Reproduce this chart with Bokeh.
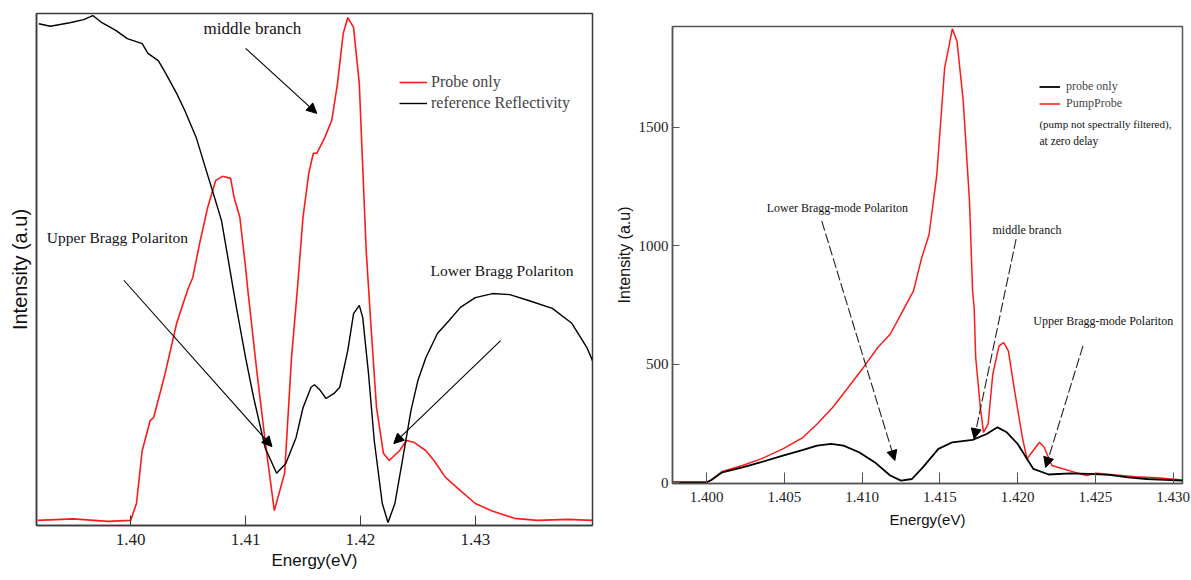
from bokeh.plotting import figure
from bokeh.layouts import row, column
from bokeh.models import (ColumnDataSource, Range1d, FixedTicker, Arrow, NormalHead,
                          Label, Legend, LegendItem, NumeralTickFormatter)
from bokeh.embed import file_html
from bokeh.resources import INLINE

# ---------------- data: left panel (arbitrary units) ----------------
left_probe_E = [1.3919, 1.3950, 1.3980, 1.4000, 1.4005, 1.4010, 1.4017, 1.4020, 1.4030, 1.4040,
                1.4050, 1.4054, 1.4060, 1.4067, 1.4074, 1.4080, 1.4087, 1.4090, 1.4095, 1.4100,
                1.4102, 1.4110, 1.4117, 1.4125, 1.4134, 1.4140, 1.4145, 1.4150, 1.4155, 1.4159,
                1.4162, 1.4169, 1.4175, 1.4180, 1.4185, 1.4189, 1.4194, 1.4199, 1.4202, 1.4205,
                1.4209, 1.4214, 1.4220, 1.4225, 1.4234, 1.4240, 1.4247, 1.4257, 1.4264, 1.4274,
                1.4287, 1.4300, 1.4314, 1.4334, 1.4354, 1.4380, 1.4402]
left_probe_I = [1.0, 1.3, 0.8, 1.0, 4.3, 14.6, 20.5, 21.1, 29.7, 39.5,
                46.3, 48.4, 55.1, 62.1, 67.4, 68.2, 67.8, 64.1, 60.2, 50.4,
                45.9, 29.7, 16.6, 2.9, 10.2, 32.8, 45.9, 60.2, 68.8, 72.7,
                72.7, 75.8, 79.1, 86.3, 96.1, 99.2, 97.3, 86.3, 69.9, 53.7,
                39.5, 23.0, 14.1, 12.7, 14.6, 16.6, 16.2, 14.6, 12.7, 9.4,
                6.8, 4.3, 2.9, 1.4, 1.0, 1.2, 1.0]

left_ref_E = [1.3920, 1.3930, 1.3947, 1.3959, 1.3967, 1.3975, 1.3987, 1.3997, 1.4010, 1.4015,
              1.4024, 1.4030, 1.4040, 1.4047, 1.4057, 1.4065, 1.4072, 1.4079, 1.4084, 1.4089,
              1.4092, 1.4100, 1.4107, 1.4117, 1.4127, 1.4135, 1.4144, 1.4150, 1.4157, 1.4160,
              1.4165, 1.4170, 1.4177, 1.4182, 1.4189, 1.4194, 1.4199, 1.4202, 1.4207, 1.4212,
              1.4219, 1.4224, 1.4230, 1.4237, 1.4244, 1.4250, 1.4257, 1.4267, 1.4277, 1.4287,
              1.4300, 1.4315, 1.4330, 1.4347, 1.4367, 1.4384, 1.4397, 1.4402]
left_ref_I = [98.0, 97.5, 98.2, 98.8, 99.6, 98.2, 96.7, 95.1, 94.1, 92.2,
              90.8, 88.5, 84.4, 81.1, 75.8, 69.9, 64.8, 59.6, 53.1, 46.5,
              42.6, 32.8, 25.0, 15.2, 10.2, 12.1, 17.2, 23.0, 27.0, 27.5,
              26.4, 24.8, 25.8, 27.0, 34.2, 41.4, 43.0, 40.6, 29.7, 16.6,
              4.3, 0.6, 4.3, 13.3, 22.5, 28.3, 32.8, 37.5, 40.0, 42.6,
              44.5, 45.3, 45.1, 43.9, 42.4, 39.5, 34.8, 32.2]

left_xticks = [1.40, 1.41, 1.42, 1.43]

# ---------------- data: right panel ----------------
right_probe_E = [1.3978, 1.4000, 1.4003, 1.4010, 1.4023, 1.4035, 1.4049, 1.4062, 1.4071, 1.4080,
                 1.4088, 1.4098, 1.4108, 1.4118, 1.4125, 1.4132, 1.4139, 1.4149, 1.4158, 1.4171,
                 1.4180, 1.4187, 1.4193, 1.4200, 1.4210, 1.4220, 1.4234, 1.4246, 1.4259, 1.4271,
                 1.4283, 1.4306]
right_probe_I = [1, 1, 11, 43, 64, 86, 114, 138, 156, 163,
                 156, 128, 86, 30, 8, 15, 64, 142, 170, 180,
                 205, 233, 212, 163, 58, 34, 39, 37, 32, 22,
                 15, 8]

right_pp_E = [1.3978, 1.4000, 1.4003, 1.4010, 1.4023, 1.4035, 1.4049, 1.4062, 1.4071, 1.4081,
              1.4091, 1.4100, 1.4110, 1.4118, 1.4125, 1.4133, 1.4138, 1.4143, 1.4148, 1.4153,
              1.4158, 1.4161, 1.4165, 1.4169, 1.4171, 1.4172, 1.4173, 1.4176, 1.4178, 1.4181,
              1.4184, 1.4188, 1.4191, 1.4194, 1.4198, 1.4203, 1.4206, 1.4210, 1.4214, 1.4217,
              1.4222, 1.4229, 1.4237, 1.4244, 1.4251, 1.4263, 1.4276, 1.4290, 1.4306]
right_pp_I = [1, 1, 11, 47, 72, 100, 142, 191, 247, 317,
              401, 479, 570, 626, 711, 809, 942, 1047, 1300, 1749,
              1915, 1862, 1609, 1188, 809, 738, 528, 317, 212, 247,
              458, 577, 591, 556, 388, 191, 100, 135, 170, 149,
              72, 58, 43, 30, 39, 32, 25, 20, 11]

right_xticks = [1.400, 1.405, 1.410, 1.415, 1.420, 1.425, 1.430]
right_yticks = [0, 500, 1000, 1500]

SERIF = "Liberation Serif"
SANS = "Liberation Sans"
RED = "#ff1a1a"
FRAME = "#3a3a3a"


def style(p, frame_color):
    p.xgrid.visible = False
    p.ygrid.visible = False
    p.outline_line_color = frame_color
    p.outline_line_width = 1.5
    p.background_fill_color = "white"
    p.border_fill_color = "white"
    for ax in (p.xaxis[0], p.yaxis[0]):
        ax.axis_line_color = frame_color
        ax.axis_line_width = 1.5
        ax.major_tick_line_color = frame_color
        ax.minor_tick_line_color = None
        ax.major_tick_out = 0
        ax.major_label_text_font = SERIF
        ax.major_label_text_color = "#222222"
        ax.axis_label_text_font = SANS
        ax.axis_label_text_font_style = "normal"
        ax.axis_label_text_color = "#111111"


# ---------------- left panel ----------------
p1 = figure(width=612, height=578, x_range=Range1d(1.3918, 1.4402), y_range=Range1d(0, 100),
            output_backend="svg", toolbar_location=None,
            min_border_left=36, min_border_right=20, min_border_top=13, min_border_bottom=53)
style(p1, FRAME)
src_lp = ColumnDataSource(dict(x=left_probe_E, y=left_probe_I))
src_lr = ColumnDataSource(dict(x=left_ref_E, y=left_ref_I))
r_red = p1.line("x", "y", source=src_lp, line_color=RED, line_width=1.6)
r_blk = p1.line("x", "y", source=src_lr, line_color="black", line_width=1.4)

p1.xaxis.ticker = FixedTicker(ticks=left_xticks)
p1.xaxis.formatter = NumeralTickFormatter(format="0.00")
p1.xaxis.major_tick_in = 10
p1.xaxis.major_label_text_font_size = "17px"
p1.xaxis.major_label_standoff = 8
p1.xaxis.axis_label = "Energy(eV)"
p1.xaxis.axis_label_text_font_size = "17px"
p1.xaxis.axis_label_standoff = 3

p1.yaxis.ticker = FixedTicker(ticks=[])
p1.yaxis.major_tick_in = 0
p1.yaxis.major_label_standoff = 0
p1.yaxis.axis_label = "Intensity (a.u)"
p1.yaxis.axis_label_text_font_size = "20px"
p1.yaxis.axis_label_standoff = 6

leg1 = Legend(items=[LegendItem(label="Probe only", renderers=[r_red]),
                     LegendItem(label="reference Reflectivity", renderers=[r_blk])],
              location=(363, 413), border_line_color=None, background_fill_alpha=0,
              label_text_font=SERIF, label_text_font_size="16px", glyph_width=28,
              glyph_height=18, label_height=18, label_standoff=4, spacing=3, padding=0, margin=0)
p1.add_layout(leg1)

for txt, x, y, align, size in [("middle branch", 1.4106, 97.1, "center", "17px"),
                               ("Upper Bragg Polariton", 1.3927, 56.3, "left", "15.5px"),
                               ("Lower Bragg Polariton", 1.4261, 49.8, "left", "15.5px")]:
    p1.add_layout(Label(x=x, y=y, text=txt, text_align=align, text_baseline="middle",
                        text_font=SERIF, text_font_size=size, text_color="#111111"))

for xs, ys, xe, ye in [(1.4100, 93.2, 1.4162, 80.5),
                       (1.3994, 47.9, 1.4123, 15.4),
                       (1.4322, 36.1, 1.4229, 16.0)]:
    p1.add_layout(Arrow(x_start=xs, y_start=ys, x_end=xe, y_end=ye, line_color="black",
                        line_width=1.1,
                        end=NormalHead(size=10, fill_color="black", line_color="black")))

# ---------------- right panel ----------------
p2 = figure(width=579, height=578, x_range=Range1d(1.3978, 1.4306), y_range=Range1d(-4, 1925),
            output_backend="svg", toolbar_location=None,
            min_border_left=60, min_border_right=9, min_border_top=26, min_border_bottom=95)
style(p2, "#555555")
src_rp = ColumnDataSource(dict(x=right_probe_E, y=right_probe_I))
src_rr = ColumnDataSource(dict(x=right_pp_E, y=right_pp_I))
r2_red = p2.line("x", "y", source=src_rr, line_color=RED, line_width=1.5)
r2_blk = p2.line("x", "y", source=src_rp, line_color="black", line_width=1.8)

p2.xaxis.ticker = FixedTicker(ticks=right_xticks)
p2.xaxis.formatter = NumeralTickFormatter(format="0.000")
p2.xaxis.major_tick_in = 11
p2.xaxis.major_label_text_font_size = "15px"
p2.xaxis.major_label_standoff = 8
p2.xaxis.axis_label = "Energy(eV)"
p2.xaxis.axis_label_text_font_size = "15px"
p2.xaxis.axis_label_standoff = 6

p2.yaxis.ticker = FixedTicker(ticks=right_yticks)
p2.yaxis.major_tick_in = 7
p2.yaxis.major_label_text_font_size = "15px"
p2.yaxis.major_label_standoff = 4
p2.yaxis.axis_label = "Intensity (a.u)"
p2.yaxis.axis_label_text_font_size = "16px"
p2.yaxis.axis_label_standoff = 3

leg2 = Legend(items=[LegendItem(label="probe only", renderers=[r2_blk]),
                     LegendItem(label="PumpProbe", renderers=[r2_red])],
              location=(367, 372), border_line_color=None, background_fill_alpha=0,
              label_text_font=SERIF, label_text_font_size="12px", glyph_width=21,
              glyph_height=15, label_height=15, label_standoff=6, spacing=2, padding=0, margin=0)
p2.add_layout(leg2)

for txt, x, y, align, size in [("(pump not spectrally filtered),", 1.42140, 1515, "left", "11px"),
                               (" at zero delay", 1.42140, 1440, "left", "11.5px"),
                               ("Lower Bragg-mode Polariton", 1.4084, 1158, "center", "12px"),
                               ("middle branch", 1.4206, 1066, "center", "12px"),
                               ("Upper Bragg-mode Polariton", 1.4255, 682, "center", "12px")]:
    p2.add_layout(Label(x=x, y=y, text=txt, text_align=align, text_baseline="middle",
                        text_font=SERIF, text_font_size=size, text_color="#111111"))

for xs, ys, xe, ye in [(1.4074, 1104, 1.4121, 93),
                       (1.4199, 1028, 1.4172, 185),
                       (1.4242, 577, 1.4218, 64)]:
    p2.add_layout(Arrow(x_start=xs, y_start=ys, x_end=xe, y_end=ye, line_color="#222222",
                        line_width=1.1, line_dash="10 3",
                        end=NormalHead(size=10, fill_color="black", line_color="black",
                                       line_dash="solid")))

layout = row(column(p1), column(p2))
open("out.html", "w").write(file_html(layout, INLINE))
